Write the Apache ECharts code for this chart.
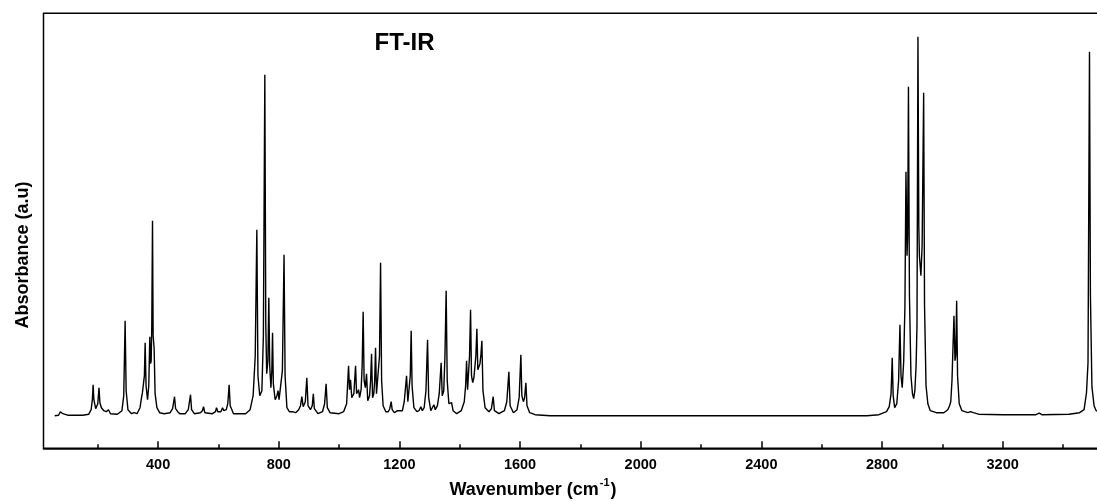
<!DOCTYPE html>
<html>
<head>
<meta charset="utf-8">
<script src="https://cdn.jsdelivr.net/npm/echarts@6/dist/echarts.min.js"></script>
<style>
html,body{margin:0;padding:0;background:#fff;}
#chart{width:1097px;height:501px;}
</style>
</head>
<body>
<div id="chart"></div>
<script>
// Spectrum points: [wavenumber (cm-1), absorbance (a.u.)]
const fingerprintPoints = [
[57,0],[70,0.5],[74,2],[76,4],[79,2],[84,2],[87,4],[90,2],[100,0.5],[150,0.5],[170,1.5],[178,6],[182,16],[184.5,31],[187,16],[193,7],[200,12],[204,28],[207,13],[212,8],[216,8],[220,5],[228,4],[235.5,6],[242,2],[265,1.5],[280,5],[286,20],[290.6,95],[294,25],[300,6],[312,2],[320,3],[330,2],[340,8],[345,18],[348,23],[352,22],[354.5,40],[357,73],[360,30],[365,16],[369,30],[372.5,79],[375,52],[377,55],[379,90],[381.4,195],[383.5,80],[386.7,68],[390,22],[396,8],[405,3],[420,2],[440,3],[448,7],[454.4,19],[458,7],[465,4],[472,2],[490,2],[500,6],[507.4,21],[511,6],[520,2],[540,3],[547,5],[550.5,9],[555,3],[580,2],[590,4],[593.7,8],[598,4],[608,4],[613.6,8],[618,5],[626,6],[631,12],[635.4,31],[639,10],[650,2],[690,2],[705,6],[715,20],[722,60],[727.3,186],[731,40],[737,20],[744,25],[749,80],[753.8,341],[757,90],[760,42],[764,55],[767,118],[770,50],[774,28],[777,45],[779.4,83],[782,32],[788,16],[794,20],[797.6,25],[801,16],[806,16],[812,45],[817.5,161],[821,40],[827,8],[835,4],[840,6],[845,4],[850,5],[856,3],[866,6],[872,10],[876.5,19],[881,9],[888,14],[893,38],[897,10],[905,6],[911,10],[914.6,22],[918,7],[930,2],[945,4],[952,12],[957,32],[961,8],[970,3],[1000,2],[1015,4],[1025,12],[1031.4,50],[1034.5,26],[1038,36],[1042,18],[1049,22],[1054.6,50],[1058,22],[1061,20],[1064.5,26],[1068,18],[1073,26],[1076.5,50],[1079.8,104],[1083,35],[1087,28],[1091,42],[1095,15],[1101,20],[1104.5,35],[1107.6,62],[1111,18],[1115,22],[1118,35],[1120.9,68],[1124,22],[1129,22],[1134,60],[1137.5,153],[1141,35],[1146,10],[1155,4],[1163,4],[1168,7],[1172.6,14],[1176,6],[1183,3],[1189,3],[1193.9,5],[1200,3],[1210,5],[1216,14],[1223.7,40],[1228,14],[1232,14],[1236,40],[1239,85],[1242,30],[1248,8],[1258,4],[1265,5],[1271,9],[1276,5],[1282,8],[1288,25],[1293.3,76],[1297,18],[1304,5],[1310,7],[1314.2,11],[1319,6],[1326,10],[1332,22],[1338.4,53],[1342,20],[1347,25],[1351,60],[1355,125],[1358.5,35],[1364,12],[1368,12],[1372.9,13],[1378,5],[1390,2],[1405,5],[1415,14],[1419.5,30],[1422.7,55],[1426,26],[1429.5,28],[1432.5,60],[1435.9,106],[1439,40],[1443,33],[1447,38],[1450,36],[1453.5,60],[1456.8,87],[1460,46],[1463,45],[1467,52],[1470,60],[1473.4,75],[1477,25],[1484,8],[1497,4],[1505,7],[1510.9,19],[1515,5],[1530,2],[1548,5],[1556,14],[1562.9,44],[1567,10],[1578,3],[1590,6],[1597,18],[1602.7,61],[1606,20],[1611,14],[1615,18],[1619.3,33],[1623,10],[1632,3],[1650,1],[1700,0]
];
const stretchPoints = [
[2750,0],[2790,1],[2815,4],[2824,9],[2830,22],[2833.9,58],[2837,20],[2842,8],[2849,12],[2855,35],[2859.5,91],[2863,40],[2867,28],[2872,55],[2876,110],[2879.4,244],[2883,160],[2885,180],[2887.7,329],[2891,120],[2896,40],[2901,22],[2905,17],[2909,25],[2913,50],[2916,90],[2919.2,379],[2922,190],[2924,160],[2926.5,150],[2929,140],[2933,170],[2938.1,323],[2941,110],[2946,30],[2952,12],[2960,5],[2980,3],[3005,3],[3018,6],[3024,10],[3028,14],[3032,35],[3035.5,70],[3038.6,100],[3042,55],[3044.5,60],[3047.5,115],[3050.5,40],[3056,12],[3065,5],[3085,3],[3093,4],[3098.2,6],[3103,3],[3120,1.5],[3200,1],[3310,1],[3321.4,2.5],[3330,1],[3420,1.5],[3455,3],[3470,6],[3478,23],[3483,53],[3487.9,364],[3491,120],[3496,29],[3503,10],[3510,5],[3540,2],[3600,1]
];
const majorTicks = [400,800,1200,1600,2000,2400,2800,3200];
const minorTicks = [200,600,1000,1400,1800,2200,2600,3000,3400];

const chart = echarts.init(document.getElementById('chart'), null, {renderer:'canvas'});
const FONT = '"Liberation Sans", Arial, sans-serif';
const option = {
  animation:false,
  backgroundColor:'#fff',
  grid:{left:43.5, width:1079.8, top:13.3, bottom:52.7, show:true, borderColor:'#000', borderWidth:1.5,
        backgroundColor:'transparent', containLabel:false, outerBoundsMode:'none'},
  xAxis:[
    {type:'value', min:20, max:3600, position:'bottom',
     axisLine:{show:true, onZero:false, lineStyle:{color:'#000', width:1.5}},
     axisTick:{show:true, inside:true, length:7, customValues:majorTicks, lineStyle:{color:'#000', width:1.5}},
     axisLabel:{show:true, customValues:majorTicks, margin:9, color:'#000', fontWeight:'bold', fontSize:14.5, fontFamily:FONT,
                formatter:function(v){return String(v);}},
     splitLine:{show:false}},
    {type:'value', min:20, max:3600, position:'bottom',
     axisLine:{show:false, onZero:false},
     axisTick:{show:true, inside:true, length:4, customValues:minorTicks, lineStyle:{color:'#000', width:1.5}},
     axisLabel:{show:false},
     splitLine:{show:false}}
  ],
  yAxis:{type:'value', min:-32.6, max:402.4, axisLine:{show:false}, axisTick:{show:false}, axisLabel:{show:false}, splitLine:{show:false}},
  series:[{
    type:'line', xAxisIndex:0, showSymbol:false, symbol:'none', smooth:false,
    lineStyle:{color:'#000', width:1.4},
    data: fingerprintPoints.concat(stretchPoints)
  }],
  graphic:[
    {type:'text', x:404.5, y:43.8, style:{text:'FT-IR', font:'bold 24px '+FONT, fill:'#000', align:'center', verticalAlign:'middle'}},
    {type:'text', x:533, y:488, style:{
      text:'{a|Wavenumber (cm}{s|-1}{a|)}', fill:'#000', align:'center', verticalAlign:'middle',
      rich:{a:{font:'bold 18px '+FONT, fill:'#000', lineHeight:22, verticalAlign:'bottom'},
            s:{font:'bold 11px '+FONT, fill:'#000', lineHeight:22, verticalAlign:'top', padding:[0,1,0,1]}}}},
    {type:'text', x:23, y:255, rotation:Math.PI/2, style:{text:'Absorbance (a.u)', font:'bold 18px '+FONT, fill:'#000', align:'center', verticalAlign:'middle'}}
  ]
};
chart.setOption(option);
</script>
</body>
</html>
